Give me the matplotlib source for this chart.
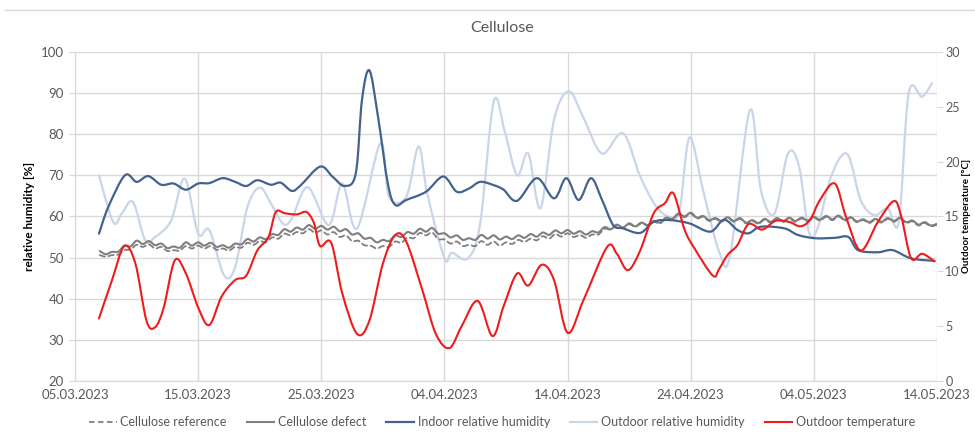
import numpy as np
import pandas as pd
import matplotlib
matplotlib.use("Agg")
import matplotlib.pyplot as plt
import matplotlib.dates as mdates
from matplotlib.lines import Line2D
from matplotlib.path import Path
from matplotlib.patches import PathPatch

plt.rcParams['font.family'] = ['Lato', 'DejaVu Sans']

START = pd.Timestamp("2023-03-05")

# indoor relative humidity [%]  (day offset from 05.03.2023, value)
indoor_days = [1.94, 2.7, 4.05, 5.0, 5.94, 7.0, 8.0, 9.0, 10.0, 10.9, 12.0, 13.0, 13.9, 14.8,
               15.9, 16.7, 17.6, 18.3, 19.9, 20.9, 21.9, 22.8, 23.3, 23.9, 24.6, 25.4, 26.0,
               26.9, 28.5, 29.9, 31.0, 32.0, 32.9, 34.0, 34.8, 35.9, 37.5, 38.9, 39.9, 40.9,
               41.9, 42.8, 43.7, 44.5, 45.9, 47.0, 48.3, 49.9, 51.6, 52.7, 53.8, 54.7, 55.7,
               57.6, 58.7, 60.1, 61.7, 62.8, 63.6, 65.2, 66.4, 67.9, 69.8]
indoor_rh = [55.8, 62.3, 70.0, 68.4, 69.8, 67.7, 68.0, 66.5, 68.0, 68.1, 69.3, 68.4, 67.4, 68.8,
             67.7, 68.2, 66.2, 67.5, 72.1, 69.7, 67.4, 70.5, 88.3, 95.5, 84.3, 68.0, 62.8,
             64.0, 66.0, 69.7, 66.0, 66.8, 68.4, 67.6, 66.5, 63.8, 69.3, 64.4, 69.3, 64.0,
             69.3, 64.0, 57.9, 57.1, 56.0, 58.7, 59.1, 58.3, 56.3, 59.2, 56.7, 55.9, 57.5,
             57.1, 55.5, 54.7, 54.8, 55.0, 51.8, 51.3, 51.8, 49.8, 49.2]

# outdoor relative humidity [%]
outdoor_days = [1.94, 3.1, 3.8, 4.7, 5.7, 6.5, 7.8, 8.9, 10.0, 10.9, 12.1, 13.0, 14.0, 15.0,
                15.9, 16.9, 17.6, 18.9, 20.6, 21.7, 22.9, 24.8, 25.5, 26.9, 27.9, 28.6, 30.0,
                30.6, 31.9, 32.9, 34.0, 34.9, 35.9, 36.8, 37.8, 38.9, 40.1, 41.3, 42.8, 44.5,
                45.9, 47.2, 48.3, 49.1, 49.9, 51.0, 52.3, 53.2, 54.8, 55.7, 56.8, 57.9, 58.8,
                59.6, 60.3, 61.4, 62.7, 63.8, 64.9, 66.0, 66.9, 67.7, 68.8, 69.6]
outdoor_rh = [70.0, 58.6, 60.7, 63.5, 54.2, 55.0, 59.0, 69.2, 55.8, 56.7, 45.7, 47.7, 62.3, 67.0,
              63.2, 58.2, 59.5, 67.1, 57.9, 68.0, 57.1, 77.8, 64.8, 64.8, 77.0, 65.6, 49.8,
              51.2, 49.8, 58.3, 87.9, 80.6, 70.0, 75.3, 62.0, 83.5, 90.4, 83.9, 75.3, 80.2,
              69.7, 62.4, 59.9, 61.6, 79.2, 66.4, 51.5, 50.6, 85.8, 66.4, 60.7, 75.3, 72.1,
              56.2, 57.1, 69.7, 75.2, 64.0, 60.3, 62.0, 58.7, 89.9, 89.1, 92.4]

# outdoor temperature [°C]
temp_days = [1.94, 3.0, 4.0, 4.9, 5.8, 6.5, 7.2, 8.1, 9.0, 10.0, 10.9, 11.9, 13.0, 13.9, 14.8,
             15.7, 16.3, 17.0, 17.6, 18.1, 18.8, 19.4, 19.9, 20.8, 21.7, 22.9, 23.9, 25.0,
             26.0, 26.9, 28.2, 29.3, 30.4, 31.4, 32.7, 33.9, 34.8, 35.9, 36.8, 37.9, 38.9,
             40.0, 41.3, 43.2, 44.0, 44.9, 45.9, 47.0, 47.9, 48.6, 49.5, 50.3, 51.8, 52.3,
             53.0, 53.8, 54.7, 55.8, 56.9, 58.0, 58.9, 59.7, 60.5, 61.7, 62.6, 63.8, 65.2,
             66.5, 67.1, 67.9, 68.8, 69.8]
temp_out = [5.7, 9.2, 12.3, 10.7, 5.5, 4.9, 6.7, 11.0, 9.8, 6.7, 5.1, 7.7, 9.2, 9.6, 11.9,
            13.1, 15.4, 15.3, 15.2, 15.2, 15.4, 14.4, 12.3, 12.6, 8.0, 4.3, 5.5, 10.7,
            13.3, 12.7, 8.3, 4.3, 3.0, 5.0, 7.3, 4.1, 6.8, 9.8, 8.7, 10.6, 9.2,
            4.4, 7.4, 12.2, 11.6, 10.1, 11.9, 15.3, 16.2, 17.1, 13.8, 12.1, 9.6, 10.2,
            11.5, 12.4, 14.3, 13.8, 14.6, 14.5, 14.1, 14.7, 16.5, 18.0, 15.0, 11.9, 14.5,
            16.4, 15.0, 11.2, 11.6, 10.9]

# cellulose sensors: daily high (at whole days 2..69) and low (half a day later), last point day 70
cell_days_hi = list(range(2, 70))
defect_hi = [51.6, 51.4, 52.9, 54.1, 54.0, 53.4, 52.7, 53.7, 53.7, 53.6, 53.0, 53.4, 54.5, 54.9,
             55.7, 56.9, 57.3, 57.9, 57.7, 57.5, 56.9, 55.9, 54.8, 54.3, 55.4, 56.2, 57.0, 57.2,
             55.9, 55.4, 54.7, 55.5, 55.4, 55.1, 55.4, 55.7, 56.1, 56.6, 56.7, 56.4, 56.4, 57.4,
             58.0, 58.3, 58.5, 58.9, 59.7, 60.7, 60.9, 60.1, 59.6, 59.8, 59.6, 59.1, 59.4, 59.6,
             59.7, 59.7, 59.9, 60.1, 60.2, 59.8, 59.3, 59.4, 59.6, 59.7, 59.0, 58.6]
defect_lo = [50.8, 51.4, 52.7, 53.3, 53.0, 52.3, 52.4, 52.9, 52.9, 52.6, 52.4, 53.2, 53.9, 54.5,
             55.5, 56.3, 56.8, 57.0, 56.8, 56.4, 55.6, 54.6, 53.7, 54.0, 55.0, 55.8, 56.3, 55.8,
             54.9, 54.3, 54.3, 54.6, 54.4, 54.5, 54.8, 55.1, 55.5, 55.9, 55.8, 55.6, 56.1, 56.9,
             57.3, 57.6, 57.9, 58.5, 59.4, 60.0, 59.7, 59.1, 58.9, 58.9, 58.5, 58.4, 58.7, 58.8,
             58.9, 59.0, 59.2, 59.3, 59.2, 58.8, 58.6, 58.7, 58.9, 58.6, 58.0, 57.8]
defect_end = 58.2
ref_hi = [50.6, 50.6, 51.8, 53.1, 53.2, 52.6, 51.8, 52.8, 52.9, 52.8, 52.2, 52.6, 53.6, 54.0,
          54.9, 55.8, 56.2, 56.9, 56.6, 56.2, 55.4, 54.1, 52.9, 52.8, 53.9, 54.9, 56.0, 56.1,
          54.4, 53.9, 53.1, 54.0, 53.9, 53.7, 54.3, 54.6, 55.2, 55.7, 55.9, 55.5, 55.6, 57.0,
          57.8, 58.1, 58.3, 58.7, 59.5, 60.5, 60.7, 59.9, 59.4, 59.6, 59.4, 58.9, 59.2, 59.4,
          59.5, 59.5, 59.7, 59.9, 60.0, 59.6, 59.1, 59.2, 59.4, 59.5, 58.8, 58.4]
ref_lo = [50.2, 50.7, 52.0, 52.6, 52.2, 51.6, 51.7, 52.2, 52.2, 51.9, 51.7, 52.4, 53.1, 53.7,
          54.6, 55.4, 55.9, 56.0, 55.6, 55.0, 54.0, 53.0, 52.2, 52.6, 53.6, 54.7, 55.4, 54.5,
          53.4, 52.8, 52.8, 53.1, 52.9, 53.3, 53.8, 54.2, 54.6, 55.1, 55.0, 54.8, 55.6, 56.8,
          57.2, 57.5, 57.8, 58.3, 59.2, 59.8, 59.5, 58.9, 58.7, 58.7, 58.3, 58.2, 58.5, 58.6,
          58.7, 58.8, 59.0, 59.1, 59.0, 58.6, 58.4, 58.5, 58.7, 58.4, 57.8, 57.6]
ref_end = 58.0

date_ticks = ["2023-03-05", "2023-03-15", "2023-03-25", "2023-04-04",
              "2023-04-14", "2023-04-24", "2023-05-04", "2023-05-14"]


def to_num(days):
    return mdates.date2num(START + pd.to_timedelta(np.asarray(days, dtype=float), unit="D"))


def zip_daily(hi, lo, end):
    d, v = [], []
    for i, day in enumerate(cell_days_hi):
        d += [day, day + 0.5]
        v += [hi[i], lo[i]]
    d.append(70)
    v.append(end)
    return d, v


def smooth_line(a, days, vals, **kw):
    # Excel style "smoothed line": bezier path through the points
    x = to_num(days)
    y = np.asarray(vals, dtype=float)
    p = np.column_stack([x, y])
    verts = [p[0]]
    codes = [Path.MOVETO]
    n = len(p)
    for i in range(n - 1):
        p0 = p[i - 1] if i > 0 else p[i]
        p3 = p[i + 2] if i + 2 < n else p[i + 1]
        c1 = p[i] + (p[i + 1] - p0) / 6.0
        c2 = p[i + 1] - (p3 - p[i]) / 6.0
        verts += [c1, c2, p[i + 1]]
        codes += [Path.CURVE4] * 3
    patch = PathPatch(Path(verts, codes), fill=False, capstyle="round", joinstyle="round", **kw)
    a.add_patch(patch)
    return patch


GRID = "#d9d9d9"
TXT = "#595959"
C_REF = "#7f7f7f"
C_DEF = "#7f7f7f"
C_IN = "#44628f"
C_OUT = "#c9d5e9"
C_T = "#ee1c1c"

fig = plt.figure(figsize=(9.75, 4.32), dpi=100)
ax = fig.add_axes([0.077, 0.118, 0.884, 0.762])
ax2 = ax.twinx()

rd, rv = zip_daily(ref_hi, ref_lo, ref_end)
dd, dv = zip_daily(defect_hi, defect_lo, defect_end)
smooth_line(ax, outdoor_days, outdoor_rh, edgecolor=C_OUT, lw=1.6, zorder=2)
smooth_line(ax, rd, rv, edgecolor=C_REF, lw=1.3, linestyle=(0, (3, 2)), zorder=3)
smooth_line(ax, dd, dv, edgecolor=C_DEF, lw=1.5, zorder=3)
smooth_line(ax, indoor_days, indoor_rh, edgecolor=C_IN, lw=1.6, zorder=4)
smooth_line(ax2, temp_days, temp_out, edgecolor=C_T, lw=1.5, zorder=5)

ax.set_ylim(20, 100)
ax.set_yticks(range(20, 101, 10))
ax2.set_ylim(0, 30)
ax2.set_yticks(range(0, 31, 5))
ax.set_xlim(pd.Timestamp("2023-03-05"), pd.Timestamp("2023-05-14"))
ax.set_xticks(pd.to_datetime(date_ticks))
ax.xaxis.set_major_formatter(mdates.DateFormatter("%d.%m.%Y"))

ax.grid(True, color=GRID, lw=1.0)
ax.set_axisbelow(True)
for a in (ax, ax2):
    for s in a.spines.values():
        s.set_visible(False)
    a.tick_params(colors=TXT, labelsize=9.5, length=0)
ax.spines["left"].set_visible(True)
ax.spines["left"].set_color(GRID)
ax.spines["bottom"].set_visible(True)
ax.spines["bottom"].set_color(GRID)
ax.tick_params(axis="y", length=4, color=GRID, pad=4)
ax.tick_params(axis="x", pad=6)
ax2.tick_params(axis="y", length=4, color=GRID, pad=2, labelsize=9)

ax.set_ylabel("relative humidity [%]", fontsize=8.5, fontweight="bold", color="black")
ax.yaxis.set_label_coords(-0.046, 0.5)
ax2.set_ylabel("Outdoor temperature [°C]", fontsize=7, fontweight="bold", color="black")
ax2.yaxis.set_label_coords(1.0285, 0.5)

fig.text(0.515, 0.935, "Cellulose", ha="center", va="center", fontsize=11.5, color=TXT)
fig.add_artist(Line2D([0.005, 1.0], [0.977, 0.977], color=GRID, lw=1.0))

handles = [
    Line2D([], [], color=C_REF, lw=1.3, ls=(0, (3, 2))),
    Line2D([], [], color=C_DEF, lw=1.5),
    Line2D([], [], color=C_IN, lw=1.6),
    Line2D([], [], color=C_OUT, lw=1.6),
    Line2D([], [], color=C_T, lw=1.5),
]
labels = ["Cellulose reference", "Cellulose defect", "Indoor relative humidity",
          "Outdoor relative humidity", "Outdoor temperature"]
fig.legend(handles, labels, loc="center", bbox_to_anchor=(0.515, 0.022), ncol=5,
           frameon=False, fontsize=9, labelcolor=TXT, handlelength=2.2, columnspacing=1.6,
           handletextpad=0.3)

fig.savefig("out.png", dpi=100)
